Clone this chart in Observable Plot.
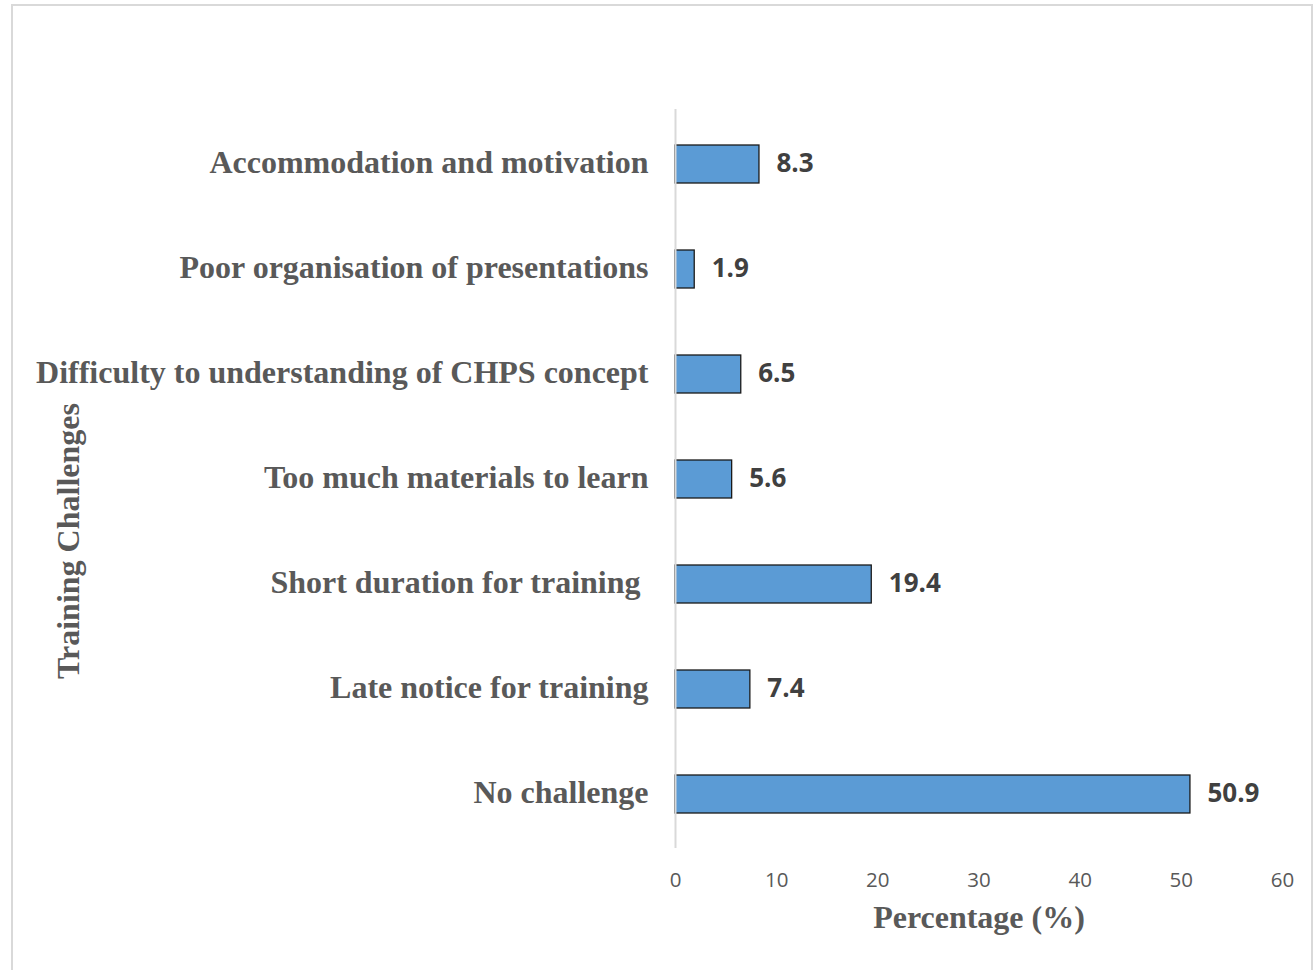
<!DOCTYPE html>
<html>
<head>
<meta charset="utf-8">
<script src="https://cdn.jsdelivr.net/npm/d3@7"></script>
<script src="https://cdn.jsdelivr.net/npm/@observablehq/plot@0.6"></script>
<style>
  html, body { margin: 0; padding: 0; background: #fff; }
  #wrap { position: relative; width: 1315px; height: 970px; overflow: hidden; }
  #border { position: absolute; left: 11px; top: 4px; width: 1302px; height: 1000px;
            border: 2px solid #d9d9d9; box-sizing: border-box; }
  #chart { position: absolute; left: 0; top: 0; }
  #ytitle { position: absolute; left: 68px; top: 541px; transform: translate(-50%, -50%) rotate(-90deg);
            white-space: nowrap; font: bold 32px 'Liberation Serif', 'Times New Roman', serif; color: #595959; }
</style>
</head>
<body>
<div id="wrap">
  <div id="border"></div>
  <div id="chart"></div>
  <div id="ytitle"></div>
</div>
<script>
// Training challenges reported by participants (percent of respondents)
const challenges = [
  "Accommodation and motivation",
  "Poor organisation of presentations",
  "Difficulty to understanding of CHPS concept",
  "Too much materials to learn",
  "Short duration for training\u00a0",
  "Late notice for training",
  "No challenge"
];
const percentages = [8.3, 1.9, 6.5, 5.6, 19.4, 7.4, 50.9];
const xTicks = [0, 10, 20, 30, 40, 50, 60];
const xTitle = "Percentage (%)";
const yTitle = "Training Challenges";

const rows = challenges.map((c, i) => ({challenge: c, pct: percentages[i]}));

const serif = "'Liberation Serif', 'Times New Roman', serif";
const sans = "'Open Sans', 'Noto Sans', sans-serif";

const chart = Plot.plot({
  width: 1315,
  height: 970,
  marginLeft: 675,
  marginRight: 33,
  marginTop: 109,
  marginBottom: 122,
  style: {background: "transparent", overflow: "visible"},
  x: {domain: [0, 60], ticks: xTicks},
  y: {domain: challenges, paddingInner: 0.64, paddingOuter: 0.32},
  marks: [
    Plot.barX(rows, {
      x: "pct", y: "challenge",
      fill: "#5b9bd5", stroke: "#1a1a1a", strokeWidth: 1.3
    }),
    Plot.ruleX([0], {stroke: "#d9d9d9", strokeWidth: 2, y1: null, y2: null}),
    Plot.text(rows, {
      x: "pct", y: "challenge", text: d => d.pct.toFixed(1),
      textAnchor: "start", dx: 17, dy: -1,
      fill: "#404040", fontWeight: "bold", fontSize: 26, fontFamily: sans
    }),
    Plot.axisY({
      tickSize: 0, tickPadding: 27, label: null, dy: -2,
      fontSize: 32, fontWeight: "bold", fontFamily: serif, color: "#595959"
    }),
    Plot.axisX({
      ticks: xTicks, tickSize: 0, tickPadding: 24, label: null,
      fontSize: 20.5, fontFamily: sans, color: "#595959"
    }),
    Plot.text([xTitle], {
      frameAnchor: "bottom", dy: 79, text: d => d,
      fontSize: 32, fontWeight: "bold", fontFamily: serif, fill: "#595959"
    })
  ]
});

document.getElementById("chart").appendChild(chart);
document.getElementById("ytitle").textContent = yTitle;
</script>
</body>
</html>
